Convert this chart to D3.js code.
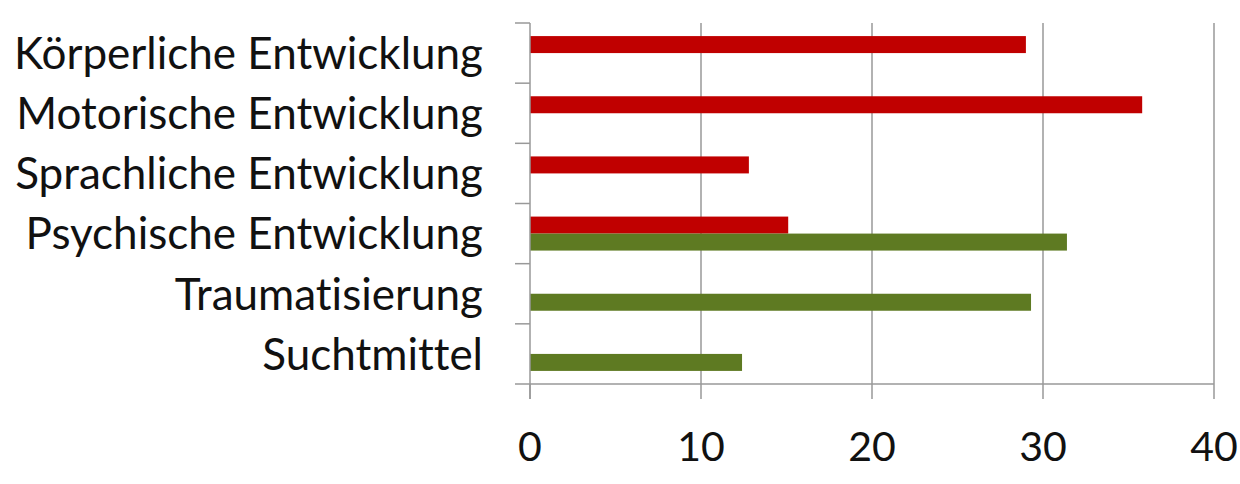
<!DOCTYPE html>
<html>
<head>
<meta charset="utf-8">
<script src="https://cdn.jsdelivr.net/npm/d3@7"></script>
<style>
  body { margin: 0; background: #fff; }
  text { font-family: Lato, "Open Sans", sans-serif; fill: #111; font-variant-ligatures: none; }
</style>
</head>
<body>
<script>
// data
const categories = ["Körperliche Entwicklung", "Motorische Entwicklung", "Sprachliche Entwicklung",
  "Psychische Entwicklung", "Traumatisierung", "Suchtmittel"]
const redValues = [29.0, 35.8, 12.8, 15.1, null, null]
const greenValues = [null, null, null, 31.4, 29.3, 12.4]
const xTicks = [0, 10, 20, 30, 40]

const width = 1240, height = 484
const plotLeft = 530, plotRight = 1214, plotTop = 23, plotBottom = 384
const tickSize = 15
const gridColor = "#999"

const svg = d3.select("body").append("svg")
  .attr("width", width).attr("height", height)

const x = d3.scaleLinear().domain([0, 40]).range([plotLeft, plotRight])
const y = d3.scaleBand().domain(categories).range([plotTop, plotBottom])
const series = [{name: "red", values: redValues, color: "#C00000"},
                {name: "green", values: greenValues, color: "#5E7A22"}]
const sub = d3.scaleBand().domain(series.map(s => s.name))
  .range([0, y.bandwidth()]).paddingOuter(0.77)

//vertical gridlines
svg.selectAll(".grid").data(xTicks.slice(1)).enter()
  .append("line")
  .attr("x1", d => x(d)).attr("x2", d => x(d))
  .attr("y1", plotTop).attr("y2", plotBottom)
  .attr("stroke", gridColor).attr("stroke-width", 1.5)

//bars
series.forEach(s => {
  svg.selectAll(".bar-" + s.name)
    .data(categories.map((c, i) => ({c: c, v: s.values[i]})).filter(d => d.v != null))
    .enter().append("rect")
    .attr("x", x(0))
    .attr("y", d => y(d.c) + sub(s.name))
    .attr("width", d => x(d.v) - x(0))
    .attr("height", sub.bandwidth())
    .attr("fill", s.color)
})

//y axis line and boundary ticks
svg.append("line")
  .attr("x1", x(0)).attr("x2", x(0))
  .attr("y1", plotTop).attr("y2", plotBottom + tickSize)
  .attr("stroke", gridColor).attr("stroke-width", 1.5)
const bounds = categories.map(c => y(c)).concat([plotBottom])
svg.selectAll(".ytick").data(bounds).enter()
  .append("line")
  .attr("x1", plotLeft - tickSize).attr("x2", plotLeft)
  .attr("y1", d => d).attr("y2", d => d)
  .attr("stroke", gridColor).attr("stroke-width", 1.5)

//x axis line and ticks
svg.append("line")
  .attr("x1", plotLeft).attr("x2", plotRight)
  .attr("y1", plotBottom).attr("y2", plotBottom)
  .attr("stroke", gridColor).attr("stroke-width", 1.5)
svg.selectAll(".xtick").data(xTicks).enter()
  .append("line")
  .attr("x1", d => x(d)).attr("x2", d => x(d))
  .attr("y1", plotBottom).attr("y2", plotBottom + tickSize)
  .attr("stroke", gridColor).attr("stroke-width", 1.5)
svg.selectAll(".xlabel").data(xTicks).enter()
  .append("text")
  .text(d => d)
  .attr("x", d => x(d))
  .attr("y", 461)
  .attr("text-anchor", "middle")
  .style("font-size", "41px")

//category labels
svg.selectAll(".ylabel").data(categories).enter()
  .append("text")
  .text(d => d)
  .attr("x", 483)
  .attr("y", d => y(d) + y.bandwidth() / 2)
  .attr("dy", "0.36em")
  .attr("text-anchor", "end")
  .style("font-size", "44px")
</script>
</body>
</html>
